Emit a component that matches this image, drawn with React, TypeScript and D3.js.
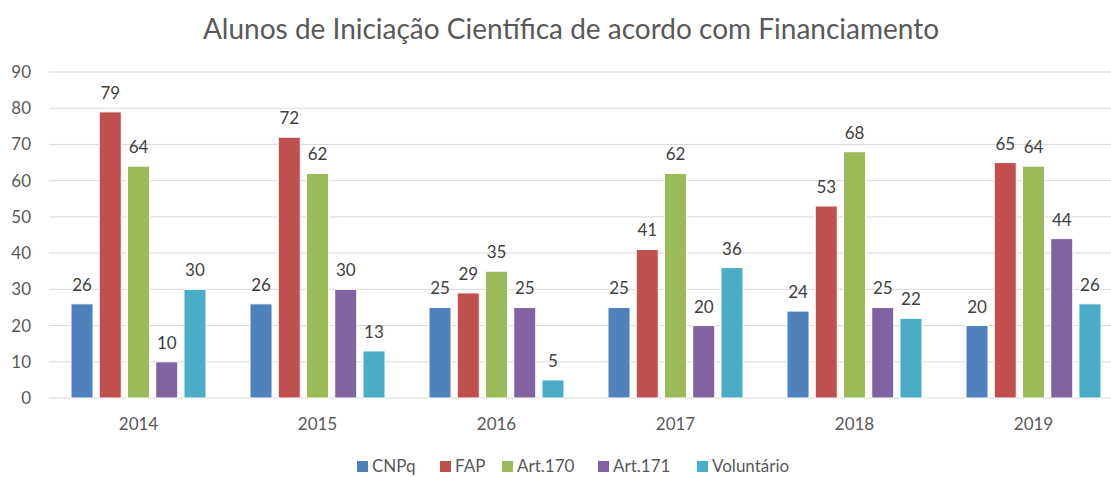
import React, { useEffect, useRef } from 'react';
import * as d3 from 'd3';

const years = ['2014', '2015', '2016', '2017', '2018', '2019'];
const seriesNames = ['CNPq', 'FAP', 'Art.170', 'Art.171', 'Voluntário'];
const cnpq = [26, 26, 25, 25, 24, 20];
const fap = [79, 72, 29, 41, 53, 65];
const art170 = [64, 62, 35, 62, 68, 64];
const art171 = [10, 30, 25, 20, 25, 44];
const voluntario = [30, 13, 5, 36, 22, 26];
const colors = ['#4f81bd', '#c0504d', '#9bbb59', '#8064a2', '#4bacc6'];
const yTicks = [0, 10, 20, 30, 40, 50, 60, 70, 80, 90];

const w = 1111;
const h = 477;
const font = 'Lato, "Open Sans", sans-serif';

export default function App() {
  const ref = useRef<SVGSVGElement>(null);

  useEffect(() => {
    const values = [cnpq, fap, art170, art171, voluntario];
    const svg = d3.select(ref.current);
    svg.selectAll('*').remove();

    const x0 = d3.scaleBand().domain(years).range([49, 1123]);
    const x1 = d3
      .scaleBand()
      .domain(seriesNames)
      .range([22, x0.bandwidth() - 22])
      .paddingInner(0.22);
    const y = d3.scaleLinear().domain([0, 90]).range([398, 72]);

    // gridlines
    svg
      .append('g')
      .selectAll('line')
      .data(yTicks)
      .enter()
      .append('line')
      .attr('x1', 49)
      .attr('x2', 1123)
      .attr('y1', d => y(d))
      .attr('y2', d => y(d))
      .attr('stroke', '#d9d9d9')
      .attr('stroke-width', 1);

    // y labels
    svg
      .append('g')
      .selectAll('text')
      .data(yTicks)
      .enter()
      .append('text')
      .attr('x', 31)
      .attr('y', d => y(d) + 6)
      .attr('text-anchor', 'end')
      .attr('font-size', 17)
      .attr('fill', '#595959')
      .text(d => d);

    // x labels
    svg
      .append('g')
      .selectAll('text')
      .data(years)
      .enter()
      .append('text')
      .attr('x', d => (x0(d) as number) + x0.bandwidth() / 2)
      .attr('y', 430)
      .attr('text-anchor', 'middle')
      .attr('font-size', 17)
      .attr('fill', '#595959')
      .text(d => d);

    // bars
    const rows = years.flatMap((yr, i) =>
      seriesNames.map((s, j) => ({ yr, s, j, v: values[j][i] }))
    );
    const g = svg.append('g');
    g.selectAll('rect')
      .data(rows)
      .enter()
      .append('rect')
      .attr('x', d => (x0(d.yr) as number) + (x1(d.s) as number))
      .attr('y', d => y(d.v))
      .attr('width', x1.bandwidth())
      .attr('height', d => y(0) - y(d.v))
      .attr('fill', d => colors[d.j])
      .attr('stroke', '#fff')
      .attr('stroke-width', 1);
    g.selectAll('text')
      .data(rows)
      .enter()
      .append('text')
      .attr('x', d => (x0(d.yr) as number) + (x1(d.s) as number) + x1.bandwidth() / 2)
      .attr('y', d => y(d.v) - 13)
      .attr('text-anchor', 'middle')
      .attr('font-size', 17)
      .attr('fill', '#404040')
      .text(d => d.v);

    // title
    svg
      .append('text')
      .attr('x', 571)
      .attr('y', 39)
      .attr('text-anchor', 'middle')
      .attr('font-size', 28)
      .attr('fill', '#595959')
      .text('Alunos de Iniciação Científica de acordo com Financiamento');

    // legend
    const legendX = [357, 440, 502, 598, 697];
    const lg = svg
      .append('g')
      .selectAll('g')
      .data(seriesNames)
      .enter()
      .append('g')
      .attr('transform', (d, i) => 'translate(' + legendX[i] + ',' + 461 + ')');
    lg.append('rect')
      .attr('width', 11)
      .attr('height', 11)
      .attr('fill', (d, i) => colors[i]);
    lg.append('text')
      .attr('x', 15)
      .attr('y', 11)
      .attr('font-size', 17)
      .attr('fill', '#595959')
      .text(d => d);
  }, []);

  return (
    <svg
      ref={ref}
      width={w}
      height={h}
      style={{ position: 'absolute', left: 0, top: 0, fontFamily: font, background: '#fff' }}
    />
  );
}
